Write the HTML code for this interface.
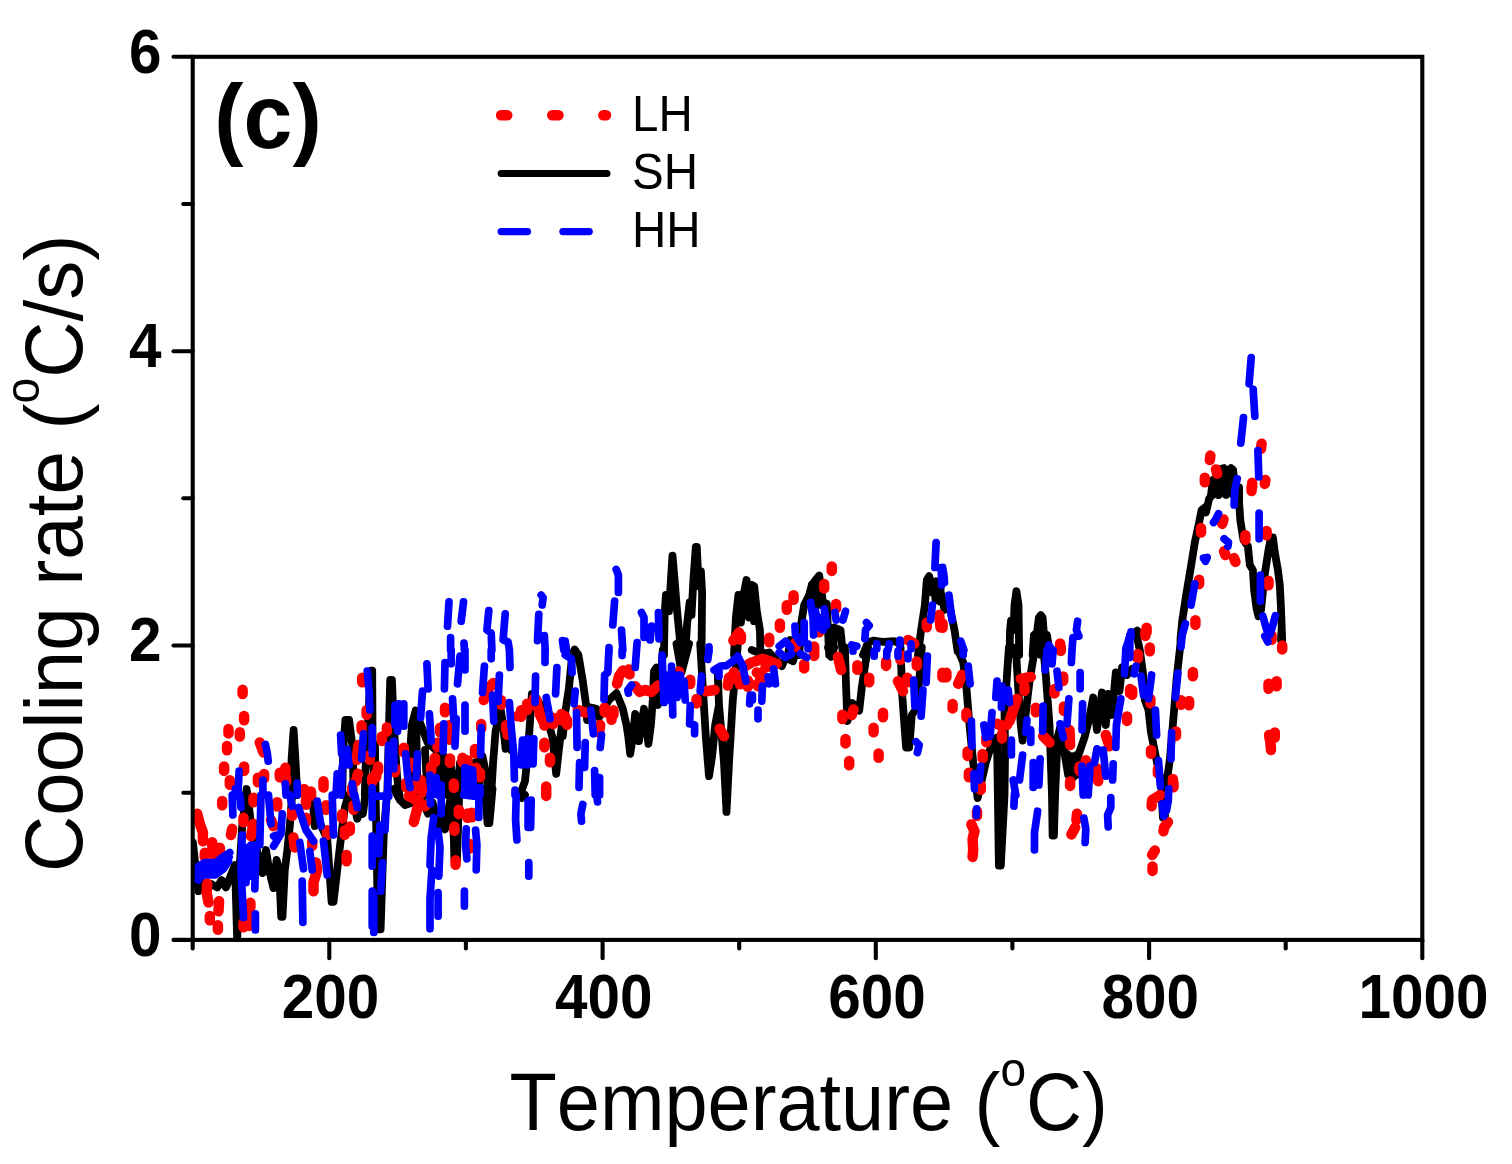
<!DOCTYPE html>
<html lang="en"><head><meta charset="utf-8"><title>Cooling rate vs Temperature (c)</title>
<style>html,body{margin:0;padding:0;background:#fff}body{width:1512px;height:1164px;overflow:hidden;font-family:"Liberation Sans",Arial,sans-serif}svg{display:block}</style>
</head><body>
<svg width="1512" height="1164" viewBox="0 0 1512 1164">
<defs><clipPath id="cp"><rect x="192.7" y="56.8" width="1229.6" height="883.1"/></clipPath></defs>
<g clip-path="url(#cp)" fill="none" stroke-linecap="round" stroke-linejoin="round">
<path stroke="#000" stroke-width="7.8" d="M192.9 842.5L194.8 860.0L198.5 891.2L202.2 882.5L211.0 883.8L217.2 887.5L221.6 880.0L226.0 887.5L231.0 875.0L235.0 865.0L237.2 940.0L239.5 870.0L242.2 826.2L246.6 789.0L252.2 832.5L257.2 851.2L262.5 873.1L266.0 850.0L269.1 870.0L273.5 888.1L276.6 860.0L279.1 870.0L281.2 916.9L282.5 916.9L284.8 870.0L287.2 851.2L289.8 826.2L293.0 782.5M312.2 795.0L314.8 826.2L318.5 820.0L327.2 838.8L331.6 901.9L333.5 901.9L337.2 870.0L341.6 832.5L344.8 807.5L348.5 795.0M352.2 795.0L357.2 818.8L360.4 810.0L362.9 813.8L365.4 795.0M375.0 745.0L375.6 795.0L378.1 929.4L380.6 929.4L383.8 832.5L387.5 788.8M393.8 788.8L400.0 800.0L405.0 805.0L412.5 802.5M422.5 801.2L428.1 813.8L432.5 802.5L438.8 826.9L441.9 820.0L445.0 829.4L448.8 807.5L451.2 795.0M452.5 788.8L454.4 860.0L456.9 860.0L459.4 788.8M485.0 788.8L487.5 823.1L489.4 823.1L492.5 788.8M518.8 795.0L521.9 798.1L525.0 795.0M726.5 788.8L726.5 811.9M1161.0 777.5L1162.9 817.5L1164.8 817.5L1166.6 777.5M290.4 795.0L291.6 758.8L293.6 730.0L295.6 762.5L297.2 795.0M342.2 795.0L343.2 750.0L345.4 720.0L349.1 720.0L352.9 750.0L353.5 795.0M364.8 795.0L366.0 756.2L368.5 712.5L371.0 670.6L372.2 670.6L372.6 750.0L375.4 800.0M387.5 788.8L389.0 725.0L390.2 680.0L391.9 680.0L393.8 725.0L396.9 775.0L400.0 800.0M408.8 795.0L409.4 762.5L411.9 725.0L415.6 710.6L420.0 722.5L427.5 742.5L440.0 753.8L450.0 760.0L454.4 795.0M456.9 795.0L460.0 762.5L465.0 759.4L473.8 764.4L482.5 756.2L486.2 775.0L488.8 795.0M416.2 725.0L417.5 795.0M425.0 750.0L427.5 795.0M437.5 757.5L440.0 795.0M445.0 760.0L447.5 795.0M468.8 762.5L470.0 795.0M477.5 762.5L480.0 795.0M491.2 795.0L493.1 762.5L495.6 731.2L500.6 708.8L503.1 725.0L505.6 748.8L508.1 737.5L511.2 750.0M520.0 795.0L525.0 781.2L528.1 750.0L530.6 712.5L531.9 693.8L536.2 697.5L541.2 706.2L547.5 720.0L552.5 737.5L556.2 773.8L558.8 750.0L562.5 720.0L565.0 715.0M562.8 736.2L565.2 712.5L569.0 687.5L572.1 656.2L574.6 649.4L578.4 655.0L582.8 681.2L585.9 703.8L587.1 720.0L590.9 707.5L596.5 708.8L599.0 717.5L602.8 710.0L609.0 700.0L616.5 693.1L622.8 708.8L626.5 725.0L628.4 737.5L630.2 753.8L632.8 737.5L635.2 713.8L637.8 720.0L639.0 741.2L642.1 720.0L644.0 708.8L646.5 725.0L648.4 743.8L650.9 725.0L652.8 700.0L654.0 671.2L656.5 667.5L657.8 705.0L660.2 687.5L662.8 650.0M676.5 643.8L681.5 672.5L689.0 643.8M700.2 643.8L702.8 687.5L705.9 737.5L709.0 776.2L712.1 756.2L715.2 725.0L719.0 705.0L724.0 762.5L726.5 811.9L729.0 762.5L732.8 700.0L736.5 662.5L737.8 643.8M717.8 675.0L719.0 705.0M751.8 650.0L760.5 653.8L769.2 652.5L781.8 666.2L785.5 657.5L793.0 661.2L796.8 647.5M828.0 647.5L831.1 656.9L834.2 647.5M844.9 647.5L846.1 687.5L847.4 721.2L852.4 703.1L859.2 710.6L861.8 687.5L865.5 662.5L868.0 647.5M900.5 647.5L902.4 697.5L906.1 747.5L909.2 747.5L911.8 715.0L915.5 710.0L919.2 681.2L921.8 647.5M1067.0 753.8L1068.2 775.0M1072.0 756.2L1072.0 776.2M1076.8 755.0L1076.4 775.0M957.0 647.5L963.2 662.5L966.4 687.5L969.5 725.0L973.2 762.5L977.6 798.1L985.8 762.5L993.2 740.0L997.0 737.5L998.9 865.6M1000.8 865.6L1004.5 795.0L1005.1 750.0L1004.5 712.5L1007.0 675.0L1008.9 647.5M1015.8 647.5L1018.2 687.5L1020.8 725.0L1022.6 740.6L1025.8 712.5L1029.5 681.2L1035.1 647.5M1043.2 647.5L1045.8 675.0L1049.5 725.0L1052.0 795.0L1052.6 835.6L1053.9 835.6L1055.1 795.0L1057.6 737.5L1060.1 727.5L1068.2 775.0L1073.2 777.5L1078.9 753.8L1084.5 737.5L1089.5 717.5L1093.2 697.5L1097.0 730.0L1102.0 692.5L1105.8 725.0L1108.2 693.8L1112.0 715.0L1115.8 672.5L1119.5 691.2L1122.0 667.5L1127.0 675.0L1132.0 668.8M1136.0 632.5L1139.8 650.0L1142.9 672.5L1144.8 700.0L1148.5 710.0L1151.0 732.5L1156.0 757.5L1161.0 782.5M1166.6 782.5L1169.8 760.0L1172.2 732.5L1174.1 710.0L1176.6 678.8L1179.8 650.0L1181.6 632.5M1281.6 628.8L1281.0 640.0M664.0 655.0L664.6 615.0L665.9 595.0L669.0 611.2L670.9 580.0L672.5 555.6L674.6 580.0L677.1 611.2L679.6 636.2L680.2 655.0M685.2 655.0L687.1 623.8L689.6 602.5L691.5 615.0L693.4 580.0L695.8 546.9L696.8 546.9L698.6 586.2L700.9 571.2L702.1 592.5L701.5 655.0M734.0 655.0L735.9 617.5L738.4 595.0L740.9 622.5L744.0 592.5L746.5 580.0L749.0 617.5L751.5 585.0L754.0 621.2M813.0 590.0L814.2 605.0M816.8 582.5L818.6 605.0M820.5 582.5L822.4 602.5M934.2 586.2L935.5 600.0M940.5 586.2L940.5 601.2M751.8 585.0L754.2 586.2L756.8 611.2L759.9 630.0L760.5 655.0M788.0 655.0L790.5 640.0L793.0 655.0M799.2 655.0L801.1 623.8L804.2 605.0L809.2 595.0L811.8 585.0L815.5 580.0L819.2 575.6L823.0 602.5L826.8 603.8L828.0 630.0L829.2 655.0M833.0 655.0L834.2 627.5L840.5 630.0L843.0 655.0M811.8 585.0L813.0 600.0M863.0 655.0L868.0 642.5L873.0 640.6L883.0 641.9L894.2 641.2L900.5 643.8M918.0 655.0L921.1 630.0L924.9 605.0L926.8 580.0L929.2 576.2L932.4 592.5L936.1 581.2L939.2 601.2L943.0 602.5M1039.8 617.5L1040.1 642.5M940.8 592.5L944.5 610.0L948.2 600.0L951.4 615.0L954.5 630.0L957.6 651.2M1009.5 655.0L1010.1 630.0L1011.0 620.6L1013.5 630.0L1014.5 605.0L1016.4 591.2L1018.5 605.0L1019.2 655.0M1032.6 655.0L1033.9 635.0L1037.0 632.5L1038.9 617.5L1040.8 615.0L1042.6 617.5L1043.9 633.8L1047.0 635.0L1048.2 642.5L1042.0 645.0L1040.8 655.0M1129.5 637.5L1132.0 635.0M1180.4 640.0L1182.2 621.2L1186.0 596.2L1190.4 570.0L1194.8 542.5L1199.1 522.5L1201.6 510.0L1204.8 507.5L1206.0 512.5L1209.1 498.8L1212.2 495.0L1213.5 487.5M1218.5 488.8L1222.2 490.0L1226.6 493.8L1229.8 490.0M1239.1 487.5L1239.1 502.5L1240.4 521.2L1243.5 540.0L1247.9 546.2L1249.8 565.0L1252.9 570.0L1254.1 590.0L1256.6 608.8L1258.5 616.2L1261.0 610.0L1263.5 585.0L1265.4 570.0L1268.5 550.0L1271.0 537.5L1272.9 537.5L1274.8 552.5L1277.9 570.0L1279.8 585.0L1281.0 608.8L1282.2 640.0M1131.0 635.0L1137.2 630.6L1139.8 635.0M1211.0 495.0L1212.9 480.0L1218.5 476.2L1221.6 468.8L1223.8 468.1L1226.2 478.8L1228.8 470.0L1231.0 468.1L1233.2 470.0L1234.1 482.5L1233.5 495.0M1218.5 495.0L1218.5 476.2M1226.0 495.0L1226.2 478.8"/>
<path stroke="#f00" stroke-width="10.5" d="M222.2 800.9v4.4M197.2 813.8L199.8 823.8L202.9 832.5L202.9 841.2M204.8 852.8v4.4M212.2 842.2v4.4M219.8 847.8v4.4M214.8 851.5v4.4M207.2 883.8L206.6 892.5L208.5 902.5M209.8 915.9v4.4M219.1 901.2L218.5 911.2M217.9 925.3v4.4M232.2 828.8L231.0 835.0M243.5 817.8v4.4M253.5 797.8v4.4M253.5 823.8L251.0 836.2M277.2 802.2v4.4M271.0 820.0L273.5 826.2M292.2 811.5v4.4M293.5 837.5L294.8 847.5M306.0 800.3v4.4M306.0 817.8v4.4M312.2 841.5v4.4M316.0 862.5L317.2 870.0L313.5 882.5L313.5 891.2M326.0 805.3v4.4M327.2 830.3v4.4M342.2 814.0v4.4M344.8 830.3v4.4M349.8 826.5v4.4M346.6 855.0L346.6 861.2M353.5 805.3v4.4M250.4 902.8v4.4M248.5 912.8v4.4M243.5 922.8v4.4M249.1 921.5v4.4M408.8 796.2L416.2 800.0L425.0 806.2M417.5 807.5L415.6 815.0L413.8 821.9M458.8 809.7v4.4M467.5 813.4v4.4M471.9 812.8v4.4M454.4 826.5v4.4M455.6 860.3v4.4M470.0 844.0v4.4M546.2 791.5v4.4M977.0 811.5v4.4M971.4 824.4L974.5 831.2L972.6 838.8L973.2 850.0L972.6 856.9M1077.0 813.8L1076.4 820.0M1075.1 827.5L1071.4 834.4M1173.5 782.8v4.4M1160.4 795.0L1152.2 800.0L1151.6 806.2M1167.9 821.9L1164.1 827.5L1163.5 831.2M1154.8 850.6L1152.2 855.0M1152.5 866.5v4.4M242.6 689.7v4.4M244.1 715.9v4.4M228.5 729.0v4.4M239.8 732.2v4.4M227.0 745.9v4.4M259.8 742.5L263.5 752.5M224.1 766.5v4.4M244.1 766.5v4.4M229.8 780.3v4.4M264.1 774.0v4.4M257.9 777.8v4.4M285.4 767.8v4.4M279.8 772.8v4.4M286.0 777.8v4.4M304.1 789.0v4.4M311.0 791.5v4.4M323.5 781.2L323.5 787.5M362.2 677.8v4.4M366.6 710.3v4.4M361.6 725.3v4.4M358.5 745.0L356.6 760.0M357.9 773.8L356.0 781.2M369.8 755.3v4.4M372.2 777.8v4.4M352.2 787.8v4.4M386.9 727.2v4.4M381.9 736.5v4.4M378.1 766.5v4.4M376.2 772.8v4.4M403.8 747.8v4.4M395.0 767.8v4.4M411.2 762.8v4.4M406.2 782.8v4.4M421.2 780.3v4.4M422.5 787.8v4.4M413.8 785.3v4.4M445.0 707.8v4.4M440.0 727.8v4.4M448.8 725.3v4.4M450.0 735.3v4.4M437.5 742.8v4.4M435.0 757.8v4.4M431.2 766.5v4.4M450.0 758.4v4.4M462.5 757.8v4.4M467.5 760.3v4.4M453.8 783.4v4.4M476.2 767.8v4.4M480.0 772.8v4.4M475.0 749.0v4.4M481.2 724.0v4.4M493.1 683.1L487.5 690.0L483.8 700.0M501.2 700.3v4.4M506.2 725.3v4.4M507.5 730.3v4.4M517.5 716.2L522.5 712.5L528.8 705.0L536.2 700.0L540.0 715.0L543.8 722.5L552.5 721.2L560.0 717.5L565.0 716.2M521.1 710.3L521.1 716.8M527.1 703.7L527.1 710.1M534.1 698.2L534.1 704.6M544.4 719.2L544.4 725.6M553.2 717.7L553.2 724.1M561.4 714.0L561.4 720.4M544.4 742.8v4.4M550.0 757.8v4.4M546.2 786.5v4.4M567.1 720.3v4.4M577.8 710.0L585.2 712.5M600.2 725.0L599.0 732.5M604.6 707.8v4.4M613.4 710.3v4.4M611.5 715.3v4.4M622.8 670.6L619.0 676.2L617.1 683.8M629.0 669.4L629.6 674.4M635.2 686.2L639.6 691.9L645.2 690.0L651.5 691.9L657.8 685.6M690.2 679.7v4.4M679.0 671.5v4.4M696.5 699.0v4.4M705.9 691.2L714.6 690.0M719.6 728.8L724.0 736.2M727.8 685.6L729.0 677.5L735.2 675.0L741.5 683.1L750.2 683.8M733.9 672.3L733.9 678.7M739.9 677.8L739.9 684.2M747.8 680.4L747.8 686.8M745.2 666.2L751.5 662.5M755.5 661.2L763.0 658.8L773.0 662.5M756.8 672.5L761.8 675.0L758.0 686.2M765.5 667.5L776.8 663.8M804.2 664.0v4.4M814.2 651.5v4.4M838.0 656.9L841.1 670.0M857.4 665.3v4.4M869.2 677.8v4.4M886.1 661.5v4.4M898.0 681.2L903.0 691.2M907.4 677.8v4.4M916.8 661.5v4.4M900.5 655.3v4.4M853.6 709.4L851.8 715.0M842.4 714.7v4.4M883.0 712.8v4.4M873.6 727.8v4.4M845.5 739.0v4.4M878.6 753.4v4.4M849.2 760.9v4.4M942.4 672.8v4.4M946.4 672.8v4.4M962.0 675.0L958.2 683.8M952.6 704.0v4.4M966.4 712.8v4.4M967.6 751.5v4.4M968.9 772.8v4.4M982.6 754.0v4.4M980.8 785.3v4.4M986.4 737.8v4.4M1017.0 698.8L1012.0 713.8L1009.5 721.2M997.0 723.8L1002.0 726.2L1007.0 725.0M1002.0 734.0v4.4M1020.8 678.8L1030.8 676.9M1024.5 686.5v4.4M1035.8 707.8v4.4M1043.2 736.2L1049.5 742.5M1054.5 689.0v4.4M1063.2 676.5v4.4M1060.8 646.5v4.4M1063.9 706.5v4.4M1069.5 730.0L1070.1 745.0M1070.1 781.5v4.4M1085.8 760.3v4.4M1079.5 766.5v4.4M1097.6 768.8L1098.2 781.2M1105.8 735.0L1109.5 746.2M1127.0 716.5v4.4M1130.1 689.0v4.4M1145.4 631.5v4.4M1149.8 647.5L1149.8 651.2M1137.9 654.0v4.4M1132.2 690.3v4.4M1150.4 699.0v4.4M1192.9 671.9L1192.9 676.2M1181.0 700.3v4.4M1189.1 700.9v4.4M1176.0 731.5v4.4M1151.0 750.0L1151.0 753.8M1157.9 769.0v4.4M1172.9 779.0v4.4M1282.2 645.6L1282.2 649.4M1268.5 683.8L1268.5 688.8M1276.6 681.2L1276.6 686.2M1274.8 732.5L1274.8 737.5M1269.1 735.0L1270.4 742.5L1271.0 750.0M1271.6 635.3v4.4M739.0 632.5L733.4 640.6M740.9 635.3v4.4M831.8 566.5v4.4M824.2 584.0v4.4M793.6 595.3v4.4M786.8 605.3v4.4M779.9 623.4v4.4M769.2 637.8v4.4M836.1 604.0v4.4M819.2 627.8v4.4M814.2 646.5v4.4M908.0 640.0L914.2 643.8M926.8 622.8v4.4M939.2 615.0L940.5 627.5M795.5 642.8v4.4M942.6 623.4v4.4M1060.1 643.4v4.4M1201.0 528.1L1201.0 532.5M1223.5 519.4L1222.2 523.8M1245.4 535.3v4.4M1266.6 530.9v4.4M1224.1 551.2L1225.4 555.0M1234.1 558.1L1235.4 561.9M1199.1 579.7v4.4M1268.5 580.9v4.4M1195.4 620.3v4.4M1146.6 627.8v4.4M1251.6 486.6v4.4M1261.6 443.8L1261.0 448.8M1210.4 455.6L1209.8 460.0M1216.0 469.4L1217.2 473.8M1204.8 477.8v4.4M1265.4 480.0L1264.8 483.8M1252.2 482.8v4.4"/>
<path stroke="#00f" stroke-width="7.7" d="M195.4 872.5L198.5 866.2L204.8 862.5L216.0 862.5L222.2 857.5L229.8 852.5M196.0 875.6L199.8 873.1L203.5 868.8L215.4 868.8L222.9 863.1L229.1 856.9M195.4 878.8L198.5 880.0L202.2 875.0L214.8 875.0L223.5 868.8L228.5 861.2M232.2 795.0L232.9 815.0M239.8 795.0L241.0 807.5M242.2 835.0L241.0 870.0L243.5 917.5M256.0 845.0L254.8 888.8M247.2 847.5L246.0 882.5M251.0 845.0L251.6 876.2M261.0 795.0L259.8 845.0M268.5 795.0L271.0 823.8M273.5 836.2L281.0 833.8L273.5 846.2M282.2 813.8L281.0 832.5M255.4 913.8L255.4 930.0M289.8 795.0L292.2 806.2M298.5 807.5L306.0 830.0L313.5 841.2M317.2 801.2L321.0 826.2M299.8 842.5L303.5 868.8M309.8 851.2L312.2 870.0M323.5 841.2L327.2 875.0M332.2 795.0L333.5 835.0M302.2 881.2L302.9 922.5M354.8 795.0L357.2 807.5M372.2 795.0L372.2 817.5M372.2 836.2L372.2 866.2M372.2 891.2L372.2 926.2M376.2 796.2L388.8 796.2M386.2 802.5L385.0 830.0M380.0 825.0L378.8 853.8M382.5 862.5L380.6 891.2M373.8 895.0L373.8 932.5M433.8 817.5L431.2 837.5L430.0 865.0M438.1 831.2L440.0 847.5L438.8 876.2M431.9 870.0L430.0 898.8L430.0 928.8M438.1 892.5L438.1 916.2M430.0 795.0L430.6 803.8M441.2 798.8L441.2 813.8M466.2 828.8L465.6 845.0L466.9 858.8M475.6 830.0L476.9 845.0L476.2 870.0M478.8 795.0L478.8 817.5M463.8 795.0L473.8 796.2M464.4 891.2L464.4 906.2M516.2 795.0L515.6 820.0L516.9 840.0M528.1 801.2L528.1 827.5M531.2 800.0L530.6 827.5M528.8 862.5L528.8 876.2M582.8 804.4L580.9 813.8L581.5 821.2M596.5 792.5L597.5 801.9M976.6 808.8L976.4 815.6M1014.5 793.8L1013.9 806.2M1037.6 811.2L1035.8 823.8L1034.5 832.5L1034.5 850.0M1083.9 818.1L1085.8 828.8L1085.1 842.5M1110.8 797.5L1110.8 807.5L1107.6 815.0L1108.2 826.9M1085.8 789.0v5.0M1159.8 780.0L1160.4 786.2M1168.8 788.8L1168.2 801.2L1166.6 810.0M1162.2 803.8L1163.8 816.2M265.4 744.4L267.2 752.5L268.2 761.2M239.1 771.2L237.9 795.0M235.4 788.8L234.8 795.0M262.9 780.0L262.9 795.0M285.4 783.8L286.0 795.0M297.2 783.1L297.2 795.0M340.6 735.0L341.6 753.8M347.2 749.4L349.1 765.0M344.1 756.2L341.0 775.0M337.2 773.8L336.0 795.0M342.2 775.0L341.0 795.0M363.5 733.8L361.6 758.8M367.2 671.2L369.1 691.2L369.8 710.0M372.2 727.5L372.2 753.8M352.2 783.8L353.5 795.0M372.2 787.5L372.2 795.0M426.9 663.8L428.1 688.8M422.5 691.2L420.6 717.5M445.0 662.5L444.4 688.8M451.2 650.0L451.2 663.8M460.0 656.2L457.5 683.8M465.0 650.0L465.0 670.0M452.5 698.8L453.8 720.0M456.2 718.8L455.0 746.2M465.0 705.0L465.0 731.2M429.4 713.8L431.2 741.2M443.8 723.8L443.1 751.2M398.8 703.8L397.5 731.2M403.8 703.8L403.8 726.2M395.0 705.0L395.0 725.0M393.8 741.2L393.8 768.8M388.8 745.0L387.5 795.0M405.6 753.8L407.5 775.0L410.0 787.5M417.5 753.8L416.2 777.5M430.0 775.0L431.2 795.0M436.2 777.5L437.5 795.0M441.2 785.0L441.2 795.0M465.0 767.5L465.0 795.0M472.5 770.0L473.8 795.0M468.8 768.8L468.8 795.0M480.0 787.5L480.0 795.0M481.2 727.5L480.6 755.0M484.4 666.2L482.5 692.5M491.2 650.0L491.2 658.8M499.4 675.0L498.1 701.2M492.5 695.0L493.8 721.2M509.4 650.0L510.0 667.5M509.4 702.5L511.2 727.5L513.8 753.8L514.4 778.8M522.5 740.0L521.2 765.0M527.5 738.8L527.5 765.0M533.8 738.8L533.1 763.8M515.0 790.0L515.0 795.0M535.6 676.2L535.0 702.5M545.0 650.0L545.0 662.5M546.2 697.5L550.0 718.8M556.9 667.5L555.6 693.8M565.2 655.0L571.5 658.8L572.1 672.5M575.2 691.2L574.0 703.8M576.5 712.5L577.1 747.5M585.2 742.5L584.6 767.5M579.6 762.5L579.0 787.5M590.9 710.0L593.4 733.8M601.5 735.0L600.2 747.5M594.6 770.6L595.2 795.0M599.6 777.5L599.6 795.0M609.0 647.5L607.8 672.5L604.6 675.0L604.0 699.4M622.1 650.0L622.1 655.6M636.5 650.0L635.2 667.5M631.5 685.0L627.8 690.0L628.4 693.1M662.1 655.0L664.0 702.5M667.8 675.0L668.4 700.0M671.5 666.2L672.8 715.0M676.5 675.0L677.1 697.5M680.2 675.0L681.5 693.8M684.0 681.2L685.2 700.0M690.2 705.6L689.6 723.8L694.6 725.0L694.6 733.8M701.5 676.2L700.2 691.2M709.0 650.0L707.8 659.4M714.0 670.0L720.2 666.2L726.5 665.6L732.8 661.2L737.8 656.2L742.8 666.2L745.9 681.2M719.0 671.2v5.0M750.2 695.0L749.6 703.8M779.2 652.5L785.5 657.5L791.8 653.8M800.5 653.8L806.8 657.5M773.6 668.8L775.5 683.8M768.0 676.9L769.2 683.8M762.4 686.2L761.8 701.2M758.0 710.0L758.0 718.8M752.4 695.0v5.0M853.0 646.2v5.0M874.2 651.2v5.0M886.8 651.2v5.0M898.0 651.2v5.0M908.0 653.8v5.0M927.4 656.2L926.1 682.5M913.6 680.0L914.9 706.2M923.0 690.0L921.1 716.2M916.1 741.9L919.2 745.0L917.4 752.5M963.2 650.0v5.0M968.2 666.2L970.1 683.8M971.4 721.2L972.0 746.2M980.8 766.2L979.5 780.0M973.9 773.8L974.5 788.8M983.9 725.0L985.8 737.5M992.0 712.5L990.1 736.2M997.0 681.2L995.8 697.5M1002.0 686.2L1001.4 707.5M1008.2 690.0L1009.5 702.5M1011.4 740.0L1011.4 755.0M1027.0 720.0L1025.8 732.5L1030.8 730.0L1030.8 742.5M1022.6 755.0L1019.5 780.0M1013.2 780.0L1015.8 795.0M1033.2 762.5L1033.2 787.5M1040.1 758.8L1038.9 785.0M1043.2 706.2L1042.6 731.2M1047.0 650.0L1045.1 670.0M1053.2 650.0L1052.0 663.8M1057.0 671.2L1058.9 687.5M1072.0 650.0L1071.4 662.5M1080.1 672.5L1080.1 688.8M1068.9 698.8L1067.0 723.8M1060.1 723.8L1063.2 737.5M1082.6 703.8L1082.0 730.0M1120.8 698.8L1116.4 725.0L1115.8 747.5M1125.8 650.0L1124.5 673.8M1097.0 748.8L1094.5 762.5M1103.2 750.0L1105.8 776.2M1082.0 766.2L1083.2 795.0M1090.1 766.2L1088.2 795.0M1113.2 763.8L1112.6 780.0M1182.2 635.0L1181.0 646.9M1177.9 673.1L1175.4 697.5M1155.4 710.0L1156.6 735.0M1171.6 732.5L1171.0 758.8M1158.5 760.6L1159.8 780.0M1151.6 675.0L1148.5 698.8M1141.0 676.2L1143.5 695.0M1136.0 666.2L1134.1 673.8M1129.8 635.0L1129.8 657.5M1264.8 636.2L1267.9 641.9M449.0 601.9L447.5 626.2M463.5 601.9L461.2 621.2M450.6 637.5L450.6 650.0M464.0 643.1L464.4 650.0M488.8 610.6L488.1 617.5L486.9 630.0L491.2 633.1L491.9 650.0M505.2 613.8L503.1 640.0L508.1 641.9L509.4 650.0M541.2 595.0L543.1 597.5L542.2 605.0M538.8 614.4L537.5 640.6M544.4 635.6L545.2 650.0M562.5 640.6L563.8 650.0M616.2 569.4L618.4 575.0L618.4 592.5M614.6 601.2L612.8 625.0M621.5 630.0L622.8 650.0M609.0 648.1v5.0M637.1 642.5L636.5 650.0M641.5 612.5L644.0 617.5L644.0 637.5M651.5 626.2L650.2 640.0M658.4 612.5L659.0 638.8M565.2 641.2L566.5 650.0M709.0 646.9v5.0M936.1 542.5L934.9 567.5M941.1 567.5L941.8 585.0M932.4 605.0L930.5 620.0M866.5 622.5L869.2 625.6L865.5 630.0L864.9 638.8M845.5 611.2L843.0 620.0M834.9 612.5L836.1 620.0M810.5 602.5L813.0 617.5L813.6 635.0M815.5 611.2L819.2 627.5M824.2 608.8L826.8 625.0M820.5 617.5L823.0 630.0M804.2 622.5L804.2 642.5M794.9 626.2L795.5 635.0L800.5 642.5M779.2 646.2L785.5 641.2L790.5 647.5M808.0 643.8v5.0M851.8 645.0L856.8 646.2M876.8 643.8v5.0M889.2 643.8L888.0 650.0M899.9 640.0v5.0M911.1 643.8v5.0M942.6 567.5L943.9 575.0L944.5 582.5M948.9 595.0L952.0 620.0M960.8 641.2L963.9 650.0M1077.6 621.2L1076.4 630.0L1078.9 636.2M1073.0 637.5L1072.0 650.0M1048.9 645.0L1052.0 650.0M1129.5 637.5L1125.8 648.8M1234.8 490.0L1234.1 505.0M1218.5 513.8L1216.0 518.8L1213.5 522.5M1224.1 538.8L1228.5 542.5L1227.9 546.2M1203.5 558.1L1207.2 557.5L1205.4 561.2M1259.1 513.1L1259.1 538.8M1194.8 583.8L1191.0 605.0M1260.4 575.0L1260.4 601.2M1185.4 623.8L1182.2 635.0M1262.9 616.2L1266.0 627.5L1268.5 635.0M1275.4 615.6L1272.2 627.5L1269.8 635.0M1131.0 631.9v5.0M1251.2 357.5L1249.1 383.8M1253.2 389.4L1254.8 416.2M1243.5 417.5L1240.8 443.1M1257.9 450.6L1258.8 476.9M1237.2 478.8L1234.8 490.0"/>
</g>
<g stroke="#000" stroke-width="4.1" fill="none" stroke-linecap="round">
<rect x="192.7" y="56.8" width="1229.6" height="883.1" stroke-linejoin="miter"/>
<path d="M329.3 939.9v18.3"/>
<path d="M602.6 939.9v18.3"/>
<path d="M875.8 939.9v18.3"/>
<path d="M1149.1 939.9v18.3"/>
<path d="M1422.3 939.9v18.3"/>
<path d="M192.7 939.9v8.6"/>
<path d="M465.9 939.9v8.6"/>
<path d="M739.2 939.9v8.6"/>
<path d="M1012.4 939.9v8.6"/>
<path d="M1285.7 939.9v8.6"/>
<path d="M192.7 939.9h-19.2"/>
<path d="M192.7 645.5h-19.2"/>
<path d="M192.7 351.2h-19.2"/>
<path d="M192.7 56.8h-19.2"/>
<path d="M192.7 792.7h-9.4"/>
<path d="M192.7 498.3h-9.4"/>
<path d="M192.7 204.0h-9.4"/>
</g>
<g font-family="'Liberation Sans',Arial,sans-serif" fill="#000" style="font-kerning:none">
<text transform="translate(330.5,1017.7) scale(0.974,1.060)" font-size="60" text-anchor="middle" font-weight="bold">200</text>
<text transform="translate(603.8,1017.7) scale(0.974,1.060)" font-size="60" text-anchor="middle" font-weight="bold">400</text>
<text transform="translate(877.0,1017.7) scale(0.974,1.060)" font-size="60" text-anchor="middle" font-weight="bold">600</text>
<text transform="translate(1150.3,1017.7) scale(0.974,1.060)" font-size="60" text-anchor="middle" font-weight="bold">800</text>
<text transform="translate(1423.5,1017.7) scale(0.974,1.060)" font-size="60" text-anchor="middle" font-weight="bold">1000</text>
<text transform="translate(161.5,955.7) scale(0.974,1.060)" font-size="60" text-anchor="end" font-weight="bold">0</text>
<text transform="translate(161.5,661.3) scale(0.974,1.060)" font-size="60" text-anchor="end" font-weight="bold">2</text>
<text transform="translate(161.5,367.0) scale(0.974,1.060)" font-size="60" text-anchor="end" font-weight="bold">4</text>
<text transform="translate(161.5,72.6) scale(0.974,1.060)" font-size="60" text-anchor="end" font-weight="bold">6</text>
<text transform="translate(268.0,147.5) scale(1.000,1.042)" font-size="87.8" text-anchor="middle" font-weight="bold">(c)</text>
<text transform="translate(509.5,1129.5) scale(1.000,1.042)" font-size="77.5">Temperature (<tspan dy="-41.3" font-size="46">o</tspan><tspan dy="41.3">C)</tspan></text>
<text transform="translate(82.3,872.0) rotate(-90) scale(1.007,1.042)" font-size="77.5">Cooling rate (<tspan dy="-41.3" font-size="46">o</tspan><tspan dy="41.3">C/s)</tspan></text>
<text transform="translate(632.0,130.8) scale(1.000,1.042)" font-size="47.5">LH</text>
<text transform="translate(632.0,188.9) scale(1.000,1.042)" font-size="47.5">SH</text>
<text transform="translate(632.0,247.1) scale(1.000,1.042)" font-size="47.5">HH</text>
</g>
<g fill="none" stroke-linecap="round">
<path stroke="#f00" stroke-width="10.4" d="M501 115.3h6.3M552.2 115.3h6.3M603.3 115.3h2.8"/>
<path stroke="#000" stroke-width="7.2" d="M501.2 173.5h105.7"/>
<path stroke="#00f" stroke-width="7.3" d="M501.2 231.6h26.3M562.9 231.6h26.3"/>
</g>
</svg>
</body></html>
